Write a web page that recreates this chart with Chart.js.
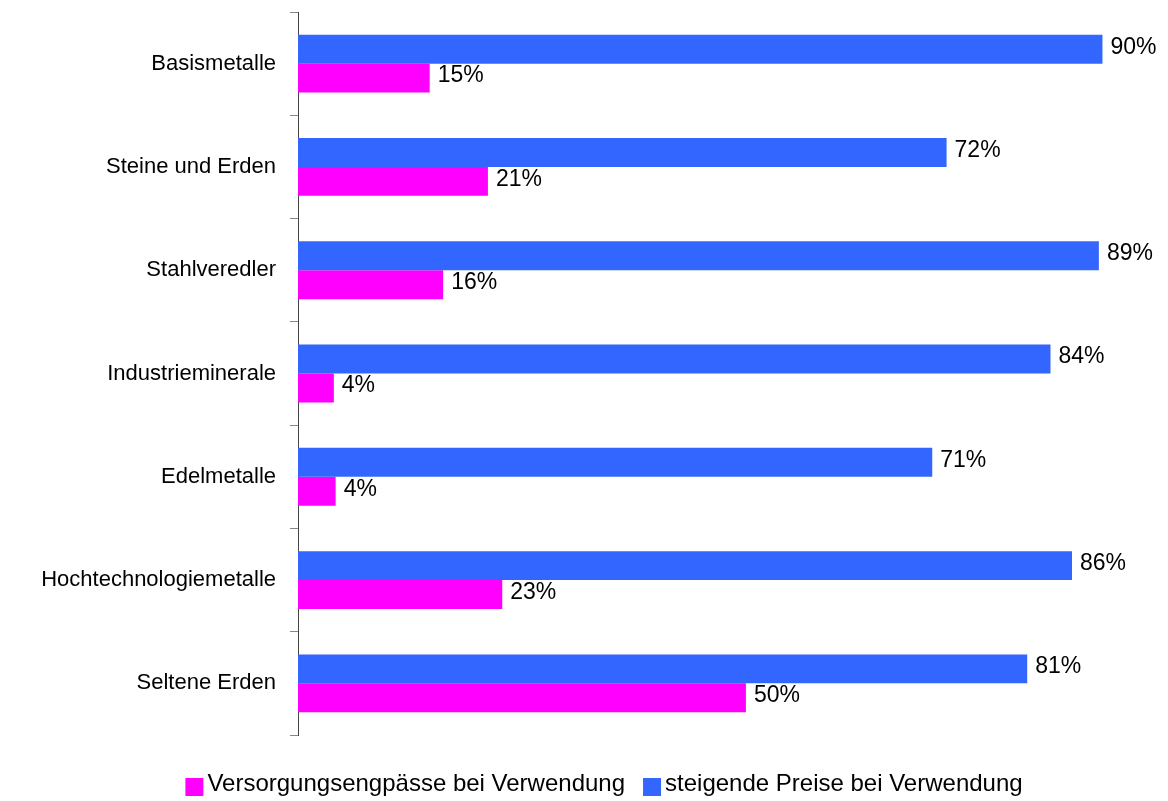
<!doctype html>
<html>
<head>
<meta charset="utf-8">
<title>Rohstoffe: Versorgungsengpässe und Preise</title>
<script src="https://cdn.jsdelivr.net/npm/chart.js@4.4.1/dist/chart.umd.min.js"></script>
<style>
	body { margin: 0; background: #fff; }
	canvas { display: block; }
</style>
</head>
<body>
<canvas id="canvas" width="1168" height="801"></canvas>
<script>
	const categories = ['Basismetalle', 'Steine und Erden', 'Stahlveredler', 'Industrieminerale',
		'Edelmetalle', 'Hochtechnologiemetalle', 'Seltene Erden'];
	const preise = [89.8, 72.4, 89.4, 84.0, 70.8, 86.4, 81.4];
	const engpaesse = [14.7, 21.2, 16.2, 4.0, 4.2, 22.8, 50.0];

	const FONT = "'Liberation Sans', Arial, sans-serif";

	// value labels at the end of each bar
	const barLabels = {
		id: 'barLabels',
		afterDatasetsDraw(chart) {
			const ctx = chart.ctx;
			ctx.save();
			ctx.font = '23px ' + FONT;
			ctx.fillStyle = '#000';
			ctx.textAlign = 'left';
			ctx.textBaseline = 'middle';
			chart.data.datasets.forEach((ds, i) => {
				chart.getDatasetMeta(i).data.forEach((bar, j) => {
					ctx.fillText(Math.round(ds.data[j]) + '%', bar.x + 8, bar.y - 2);
				});
			});
			ctx.restore();
		}
	};

	// legend under the chart, squares tight to the text (Excel style)
	const bottomLegend = {
		id: 'bottomLegend',
		afterDraw(chart) {
			const ctx = chart.ctx;
			const items = chart.data.datasets.map(ds => ({ text: ds.label, color: ds.backgroundColor })).reverse();
			const box = 18, gap = 4, spacing = 18, baseline = 791;
			ctx.save();
			ctx.font = '24px ' + FONT;
			const widths = items.map(it => box + gap + ctx.measureText(it.text).width);
			const total = widths.reduce((a, b) => a + b, 0) + spacing * (items.length - 1);
			let x = 604 - total / 2;
			ctx.textBaseline = 'alphabetic';
			ctx.textAlign = 'left';
			items.forEach((it, i) => {
				ctx.fillStyle = it.color;
				ctx.fillRect(x, 778, box, box);
				ctx.fillStyle = '#000';
				ctx.fillText(it.text, x + box + gap, baseline);
				x += widths[i] + spacing;
			});
			ctx.restore();
		}
	};

	const ctx = document.getElementById('canvas').getContext('2d');
	new Chart(ctx, {
		type: 'bar',
		data: {
			labels: categories,
			datasets: [{
				label: 'steigende Preise bei Verwendung',
				data: preise,
				backgroundColor: '#3366FF'
			}, {
				label: 'Versorgungsengpässe bei Verwendung',
				data: engpaesse,
				backgroundColor: '#FF00FF'
			}]
		},
		options: {
			indexAxis: 'y',
			responsive: false,
			animation: false,
			categoryPercentage: 0.56,
			barPercentage: 1,
			layout: {
				padding: { top: 12, right: 10, left: 0, bottom: 66 }
			},
			scales: {
				x: {
					display: false,
					min: 0,
					max: 96
				},
				y: {
					grid: {
						offset: true,
						drawOnChartArea: false,
						drawTicks: true,
						tickLength: 8,
						color: '#888'
					},
					border: { display: true, color: '#444', width: 1 },
					ticks: {
						padding: 14,
						color: '#000',
						font: { family: FONT, size: 22 }
					},
					afterFit(scale) {
						scale.width = 298;
						scale.paddingTop = 0;
						scale.paddingBottom = 0;
					}
				}
			},
			plugins: {
				legend: { display: false },
				tooltip: { enabled: false }
			}
		},
		plugins: [barLabels, bottomLegend]
	});
</script>
</body>
</html>
